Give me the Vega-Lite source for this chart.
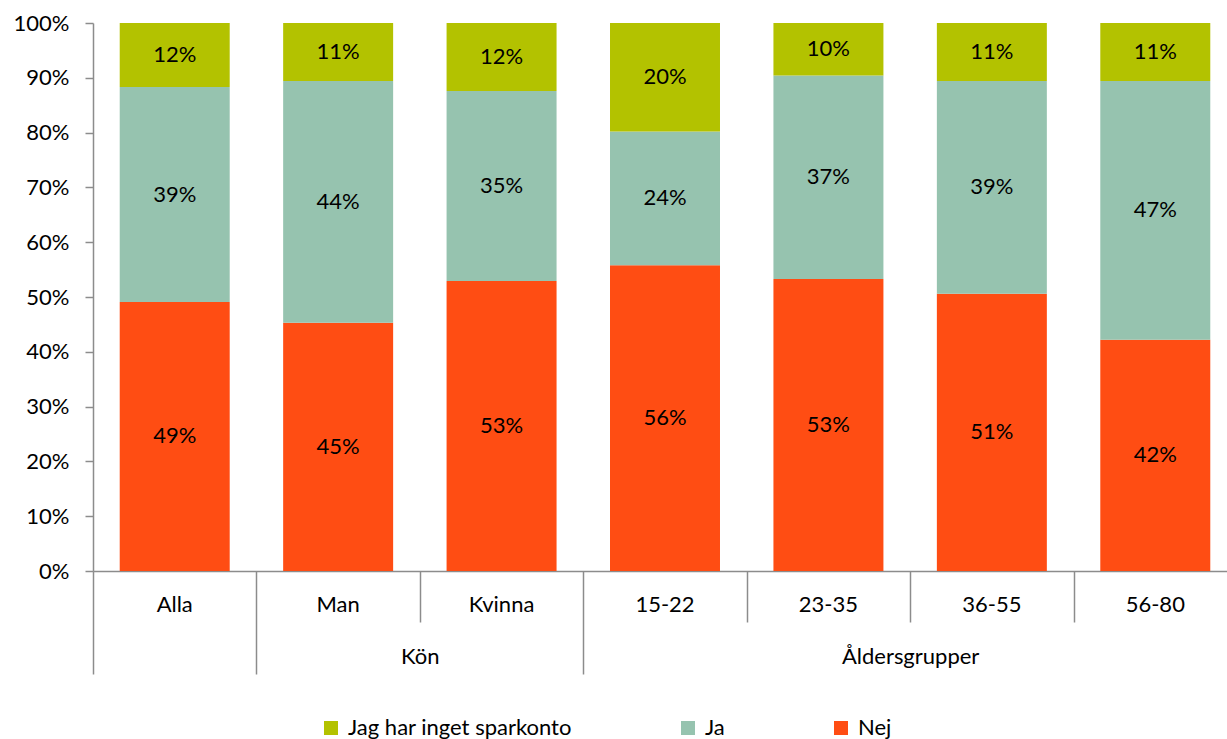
{
  "$schema": "https://vega.github.io/schema/vega-lite/v6.json",
  "width": 1134,
  "height": 548,
  "autosize": {"type": "none"},
  "padding": {"left": 93, "top": 23, "right": 0, "bottom": 168},
  "config": {
    "view": {"stroke": null},
    "font": "Lato",
    "axis": {"labelFont": "Lato", "labelFontSize": 22, "labelColor": "#000000", "domainColor": "#8c8c8c", "tickColor": "#8c8c8c", "grid": false, "title": null, "domainWidth": 1.5, "tickWidth": 1.5},
    "legend": {"labelFont": "Lato", "labelFontSize": 22, "labelColor": "#000000", "labelLimit": 0}
  },
  "datasets": {
    "d": [
      {"kat": "Alla", "svar": "Nej", "andel": 0.491},
      {"kat": "Alla", "svar": "Ja", "andel": 0.392},
      {"kat": "Alla", "svar": "Jag har inget sparkonto", "andel": 0.117},
      {"kat": "Man", "svar": "Nej", "andel": 0.453},
      {"kat": "Man", "svar": "Ja", "andel": 0.441},
      {"kat": "Man", "svar": "Jag har inget sparkonto", "andel": 0.106},
      {"kat": "Kvinna", "svar": "Nej", "andel": 0.529},
      {"kat": "Kvinna", "svar": "Ja", "andel": 0.347},
      {"kat": "Kvinna", "svar": "Jag har inget sparkonto", "andel": 0.124},
      {"kat": "15-22", "svar": "Nej", "andel": 0.558},
      {"kat": "15-22", "svar": "Ja", "andel": 0.244},
      {"kat": "15-22", "svar": "Jag har inget sparkonto", "andel": 0.198},
      {"kat": "23-35", "svar": "Nej", "andel": 0.533},
      {"kat": "23-35", "svar": "Ja", "andel": 0.371},
      {"kat": "23-35", "svar": "Jag har inget sparkonto", "andel": 0.096},
      {"kat": "36-55", "svar": "Nej", "andel": 0.506},
      {"kat": "36-55", "svar": "Ja", "andel": 0.388},
      {"kat": "36-55", "svar": "Jag har inget sparkonto", "andel": 0.106},
      {"kat": "56-80", "svar": "Nej", "andel": 0.422},
      {"kat": "56-80", "svar": "Ja", "andel": 0.472},
      {"kat": "56-80", "svar": "Jag har inget sparkonto", "andel": 0.106}
    ],
    "b": [{"p": 0}, {"p": 7}]
  },
  "layer": [
    {
      "data": {"name": "d"},
      "transform": [
        {"calculate": "indexof(['Nej','Ja','Jag har inget sparkonto'], datum.svar)", "as": "ord"},
        {"stack": "andel", "groupby": ["kat"], "sort": [{"field": "ord", "order": "ascending"}], "as": ["y0", "y1"]},
        {"calculate": "(datum.y0 + datum.y1) / 2", "as": "mid"}
      ],
      "encoding": {
        "x": {
          "field": "kat", "type": "nominal",
          "sort": ["Alla", "Man", "Kvinna", "15-22", "23-35", "36-55", "56-80"],
          "scale": {"range": [0, 1144], "paddingInner": 0.327, "paddingOuter": 0.1635},
          "axis": {"orient": "bottom", "labelAngle": 0, "ticks": false, "tickSize": 0, "labelPadding": 23, "domain": true}
        }
      },
      "layer": [
        {
          "mark": {"type": "bar"},
          "encoding": {
            "y": {"field": "y0", "type": "quantitative", "scale": {"domain": [0, 1], "nice": false},
              "axis": {"format": ".0%", "values": [0, 0.1, 0.2, 0.3, 0.4, 0.5, 0.6, 0.7, 0.8, 0.9, 1], "tickSize": 8, "labelPadding": 16}},
            "y2": {"field": "y1"},
            "color": {"field": "svar", "type": "nominal",
              "scale": {"domain": ["Jag har inget sparkonto", "Ja", "Nej"], "range": ["#b3c200", "#96c3af", "#ff4d13"]},
              "legend": {"title": null, "orient": "none", "legendX": 227, "legendY": 694, "direction": "horizontal", "columns": 3, "columnPadding": 105, "symbolType": "square", "symbolSize": 196, "symbolStrokeWidth": 0, "labelOffset": 6}}
          }
        },
        {
          "mark": {"type": "text", "fontSize": 22, "color": "#000000", "font": "Lato"},
          "encoding": {
            "y": {"field": "mid", "type": "quantitative"},
            "text": {"field": "andel", "type": "quantitative", "format": ".0%"}
          }
        }
      ]
    },
    {
      "data": {"name": "b"},
      "mark": {"type": "point", "opacity": 0},
      "encoding": {
        "x": {"field": "p", "type": "quantitative", "scale": {"domain": [0, 7], "range": [0, 1144], "nice": false, "zero": false},
          "axis": {"orient": "bottom", "values": [2, 4, 5, 6], "tickSize": 51, "labels": false, "domain": false}}
      }
    },
    {
      "data": {"name": "b"},
      "mark": {"type": "point", "opacity": 0},
      "encoding": {
        "x": {"field": "p", "type": "quantitative", "scale": {"domain": [0, 7], "range": [0, 1144], "nice": false, "zero": false},
          "axis": {"orient": "bottom", "values": [0, 1, 3, 7], "tickSize": 103, "labels": false, "domain": false}}
      }
    },
    {
      "data": {"name": "b"},
      "mark": {"type": "point", "opacity": 0},
      "encoding": {
        "x": {"field": "p", "type": "quantitative", "scale": {"domain": [0, 7], "range": [0, 1144], "nice": false, "zero": false},
          "axis": {"orient": "bottom", "values": [2, 5], "ticks": false, "tickSize": 0, "domain": false, "labelPadding": 75,
            "labelExpr": "datum.value == 2 ? 'Kön' : 'Åldersgrupper'"}}
      }
    }
  ],
  "resolve": {"scale": {"x": "independent"}, "axis": {"x": "independent"}}
}
